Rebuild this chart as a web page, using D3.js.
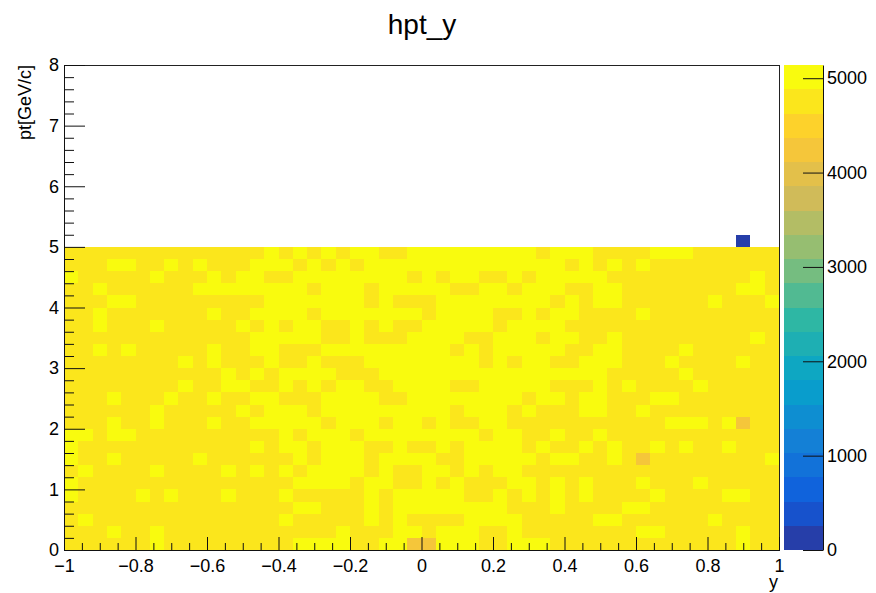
<!DOCTYPE html>
<html>
<head>
<meta charset="utf-8">
<script src="https://cdn.jsdelivr.net/npm/d3@7"></script>
<style>
  body { margin: 0; background: #fff; }
  svg { display: block; font-family: "Liberation Sans", Arial, sans-serif; }
</style>
</head>
<body>
<svg id="chart" width="876" height="593"></svg>
<script>
// hpt_y : pt vs rapidity, 50 x-bins in [-1,1], 0.2 GeV bins in pt
const xMin = -1, xMax = 1, xBinWidth = 0.04;
const ptMin = 0, ptMax = 8, ptBinWidth = 0.2;
const zMax = 5140;

// filled pt range is [0,5]; rows listed from the top row (4.8-5.0) down to (0-0.2)
// 1 = full bin, 0 = slightly lower bin, 2 = low bin
const cellLevels = [
  '00000000000000101010110011111111101110000111000000',
  '00011001010001110101011111111111111010101000000000',
  '10000010001011001111111101011001011111000000000010',
  '00100000011111111011101111100110111001100000000110',
  '00011000000000111111101000111111110101100000010001',
  '00100000001001111011111110111100101100001000000000',
  '00100010000010101100101001111101111000000000000000',
  '00000000000001111100100011110011101100100000000010',
  '00101000001001100011111111101011111001100001000000',
  '00000000101000100100011111111010110011100010000100',
  '00000000000101011110001111111111111111000001000000',
  '00000000100110010101100111100111110001010000100000',
  '00010001001001100011110011111111011011000110000000',
  '00000010000010111011111111101110100011001000000000',
  '00010010001001111101110110100110000000000011101200',
  '11011000000000010111011111111011001001000000000000',
  '10000000000001011011100100101111010010100101001000',
  '10010000010000001011101111001111101100102000000001',
  '01000010000101010111101001101011000000000000000000',
  '10000000000000001111011001010001101010001000100000',
  '10000101000100010000010111110010101010000100001100',
  '00000000000000001100010111111110001000011000000000',
  '01000000000000010000010100001111000001100000010000',
  '00010010000000000001000110111001000000001100000100',
  '00000010000000001111001122111001110000000000000100'
];
const levelCounts = { '1': 5000, '0': 4760, '2': 4250 };

// single sparse bin above the filled band
const extraBins = [{ x: 0.90, pt: 5.1, count: 120 }];

const xTicks = [-1, -0.8, -0.6, -0.4, -0.2, 0, 0.2, 0.4, 0.6, 0.8, 1];
const ptTicks = [0, 1, 2, 3, 4, 5, 6, 7, 8];
const zTicks = [0, 1000, 2000, 3000, 4000, 5000];

// ROOT kBird palette
const birdStops = [0, 0.125, 0.25, 0.375, 0.5, 0.625, 0.75, 0.875, 1];
const birdR = [0.2082, 0.0592, 0.0780, 0.0232, 0.1802, 0.5301, 0.8186, 0.9956, 0.9764];
const birdG = [0.1664, 0.3599, 0.5041, 0.6419, 0.7178, 0.7492, 0.7328, 0.7862, 0.9832];
const birdB = [0.5293, 0.8684, 0.8385, 0.7914, 0.6425, 0.4662, 0.3499, 0.1968, 0.0539];
const nBands = 20;

function bird(t) {
  t = Math.max(0, Math.min(1, t));
  let i = 0;
  while (i < birdStops.length - 2 && t > birdStops[i + 1]) i++;
  const f = (t - birdStops[i]) / (birdStops[i + 1] - birdStops[i]);
  const c = k => Math.round(255 * (k[i] + f * (k[i + 1] - k[i])));
  return d3.rgb(c(birdR), c(birdG), c(birdB)).formatHex();
}
const bandColor = i => bird((i + 0.99) / nBands);
const colorOf = v => bandColor(Math.min(nBands - 1, Math.floor(v / zMax * nBands)));

const svg = d3.select('#chart');
const frame = { left: 64, right: 779, top: 65, bottom: 550 };

const x = d3.scaleLinear([xMin, xMax], [frame.left, frame.right]);
const y = d3.scaleLinear([ptMin, ptMax], [frame.bottom, frame.top]);
const z = d3.scaleLinear([0, zMax], [frame.bottom, frame.top]);

// bins
const bins = [];
cellLevels.forEach((row, r) => {
  const ptLow = 5 - (r + 1) * ptBinWidth;
  for (let c = 0; c < row.length; c++) {
    bins.push({ x0: xMin + c * xBinWidth, pt0: ptLow, count: levelCounts[row[c]] });
  }
});
extraBins.forEach(b => bins.push({ x0: b.x - xBinWidth / 2, pt0: b.pt - ptBinWidth / 2, count: b.count }));

svg.append('g')
  .attr('class', 'cells')
  .attr('shape-rendering', 'crispEdges')
  .selectAll('rect')
  .data(bins)
  .join('rect')
  .attr('x', d => x(d.x0))
  .attr('y', d => y(d.pt0 + ptBinWidth))
  .attr('width', d => x(d.x0 + xBinWidth) - x(d.x0))
  .attr('height', d => y(d.pt0) - y(d.pt0 + ptBinWidth))
  .attr('fill', d => colorOf(d.count));

// frame
svg.append('rect')
  .attr('x', frame.left).attr('y', frame.top)
  .attr('width', frame.right - frame.left)
  .attr('height', frame.bottom - frame.top)
  .attr('fill', 'none')
  .attr('stroke', '#222')
  .attr('shape-rendering', 'crispEdges');

const fmt = d3.format('~g');

// x axis: major + minor ticks pointing up into the frame
const xMinor = d3.range(-20, 21).map(i => i * 0.05).filter(v => Math.abs(Math.round(v * 5) - v * 5) > 1e-6);
svg.append('g')
  .attr('transform', `translate(0,${frame.bottom})`)
  .call(d3.axisBottom(x).tickValues(xMinor).tickSize(-7).tickSizeOuter(0).tickFormat(''));
svg.append('g')
  .attr('class', 'x-axis')
  .attr('transform', `translate(0,${frame.bottom})`)
  .call(d3.axisBottom(x).tickValues(xTicks).tickSize(-13).tickSizeOuter(0).tickPadding(9).tickFormat(fmt));

// y axis
const yMinor = d3.range(0, 41).map(i => i * 0.2).filter(v => Math.abs(Math.round(v) - v) > 1e-6);
svg.append('g')
  .attr('transform', `translate(${frame.left},0)`)
  .call(d3.axisLeft(y).tickValues(yMinor).tickSize(-10).tickSizeOuter(0).tickFormat(''));
svg.append('g')
  .attr('class', 'y-axis')
  .attr('transform', `translate(${frame.left},0)`)
  .call(d3.axisLeft(y).tickValues(ptTicks).tickSize(-21).tickSizeOuter(0).tickPadding(5).tickFormat(fmt));

// palette
const bar = { left: 784, right: 823 };
svg.append('g')
  .attr('shape-rendering', 'crispEdges')
  .selectAll('rect')
  .data(d3.range(nBands))
  .join('rect')
  .attr('x', bar.left)
  .attr('width', bar.right - bar.left)
  .attr('y', i => z((i + 1) * zMax / nBands))
  .attr('height', i => z(i * zMax / nBands) - z((i + 1) * zMax / nBands))
  .attr('fill', bandColor);
svg.append('g')
  .attr('class', 'z-axis')
  .attr('transform', `translate(${bar.right},0)`)
  .call(d3.axisRight(z).tickValues(zTicks).tickSize(-20).tickSizeOuter(0).tickPadding(4).tickFormat(d3.format('d')));

svg.selectAll('.tick line, .domain').attr('stroke', '#111');
svg.selectAll('.tick text').attr('fill', '#000').attr('font-size', 18)
  .attr('font-family', '"Liberation Sans", Arial, sans-serif');

// titles
svg.append('text')
  .attr('x', 422).attr('y', 34)
  .attr('text-anchor', 'middle')
  .attr('font-size', 28)
  .text('hpt_y');
svg.append('text')
  .attr('x', frame.right - 1).attr('y', 588)
  .attr('text-anchor', 'end')
  .attr('font-size', 18)
  .text('y');
svg.append('text')
  .attr('transform', `translate(31,${frame.top}) rotate(-90)`)
  .attr('text-anchor', 'end')
  .attr('font-size', 18)
  .text('pt[GeV/c]');
</script>
</body>
</html>
